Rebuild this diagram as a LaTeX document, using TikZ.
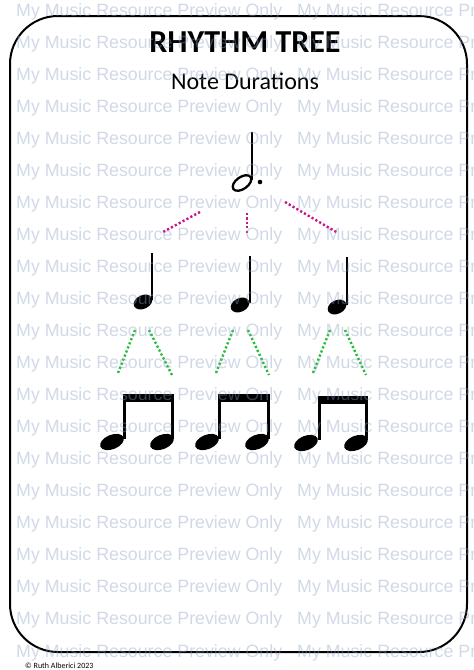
\documentclass[tikz,border=0pt]{standalone}
\usepackage{fontspec}
\setmainfont{Carlito}
\newfontfamily\wmfont{Liberation Sans}
\definecolor{treepink}{RGB}{200,20,140}
\definecolor{treegreen}{RGB}{40,190,60}
\definecolor{wmblue}{RGB}{140,160,195}
\tikzset{
  notehead/.style={fill=black},
  notestem/.style={line width=2pt},
  pinkdots/.style={treepink, line width=2.4pt, dash pattern={on 2.2pt off 2.2pt}},
  greendots/.style={treegreen, line width=2.4pt, dash pattern={on 2.2pt off 2.2pt}},
  wmtext/.style={anchor=base west, inner sep=0pt, text=wmblue, font=\wmfont\fontsize{17.8}{20}\selectfont}
}
\begin{document}
\begin{tikzpicture}[x=1pt,y=1pt,yscale=-1,xscale=1]
\useasboundingbox (0,0) rectangle (474,670);
\fill[white] (0,0) rectangle (474,670);

%Rounded Rect
\draw [line width=2pt, rounded corners=48] (10,16) rectangle (467,652);

% Text Node
\node (title) [anchor=base, inner sep=0pt, font=\fontsize{32}{36}\selectfont\bfseries] at (245,52) {RHYTHM TREE};
% Text Node
\node (subtitle) [anchor=base, inner sep=0pt, font=\fontsize{24}{28}\selectfont] at (245,89) {Note Durations};
% Text Node
\node (copy) [anchor=base west, inner sep=0pt, font=\fontsize{8}{9}\selectfont] at (25,668) {© Ruth Alberici 2023};

% Dotted Half Note
\draw [line width=2.3pt, rotate around={-35:(242,183)}] (242,183) ellipse (10.5 and 6);
\draw [line width=1.5pt] (252,132) -- (252,180);
\fill (260,182) circle (2.3);

% Quarter Notes
\fill [notehead, rotate around={-25:(143,302)}] (143,302) ellipse (9.8 and 6.8);
\draw [notestem] (152,253) -- (152,300);
\fill [notehead, rotate around={-25:(240,305)}] (240,305) ellipse (9.8 and 6.8);
\draw [notestem] (249.5,256) -- (249.5,303);
\fill [notehead, rotate around={-25:(337,307)}] (337,307) ellipse (9.8 and 6.8);
\draw [notestem] (346.5,257) -- (346.5,305);

% Eighth Notes
\fill [notehead, rotate around={-22:(112,442)}] (112,442) ellipse (12.5 and 7.2);
\fill [notehead, rotate around={-22:(162,442)}] (162,442) ellipse (12.5 and 7.2);
\fill (123,394) rectangle (174,402);
\draw [notestem, line width=2.6pt] (124.3,394) -- (124.3,439);
\draw [notestem, line width=2.6pt] (172.7,394) -- (172.7,439);
\fill [notehead, rotate around={-22:(207,442)}] (207,442) ellipse (12.5 and 7.2);
\fill [notehead, rotate around={-22:(257,442)}] (257,442) ellipse (12.5 and 7.2);
\fill (218,394) rectangle (270,402);
\draw [notestem, line width=2.6pt] (219.3,394) -- (219.3,439);
\draw [notestem, line width=2.6pt] (268.7,394) -- (268.7,439);
\fill [notehead, rotate around={-22:(306,443)}] (306,443) ellipse (12.5 and 7.2);
\fill [notehead, rotate around={-22:(356,443)}] (356,443) ellipse (12.5 and 7.2);
\fill (318,396) rectangle (368,404);
\draw [notestem, line width=2.6pt] (319.3,396) -- (319.3,440);
\draw [notestem, line width=2.6pt] (366.7,396) -- (366.7,440);

% Connection ends
\coordinate (hL) at (200,212);
\coordinate (qA) at (163,232);
\coordinate (hM) at (247,213);
\coordinate (qB) at (247,235);
\coordinate (hR) at (285,202);
\coordinate (qC) at (338,233);
\coordinate (qAl) at (135,330);
\coordinate (eA1) at (118,373);
\coordinate (qAr) at (149,330);
\coordinate (eA2) at (172,375);
\coordinate (qBl) at (233,330);
\coordinate (eB1) at (216,373);
\coordinate (qBr) at (248,330);
\coordinate (eB2) at (269,375);
\coordinate (qCl) at (330,330);
\coordinate (eC1) at (313,373);
\coordinate (qCr) at (345,330);
\coordinate (eC2) at (366,375);

% Connection
\draw [pinkdots] (hL) -- (qA);
\draw [pinkdots] (hM) -- (qB);
\draw [pinkdots] (hR) -- (qC);
% Connection
\draw [greendots] (qAl) -- (eA1);
\draw [greendots] (qAr) -- (eA2);
\draw [greendots] (qBl) -- (eB1);
\draw [greendots] (qBr) -- (eB2);
\draw [greendots] (qCl) -- (eC1);
\draw [greendots] (qCr) -- (eC2);

%Watermark
\begin{scope}[opacity=0.4]
\clip (0,0) rectangle (474,670);
\foreach \k in {0,...,20} {
  \node (wmA\k) [wmtext] at (16,16+32.05*\k) {My Music Resource Preview Only};
  \node (wmB\k) [wmtext] at (297,16+32.05*\k) {My Music Resource Preview Only};
}
\end{scope}

\end{tikzpicture}
\end{document}
